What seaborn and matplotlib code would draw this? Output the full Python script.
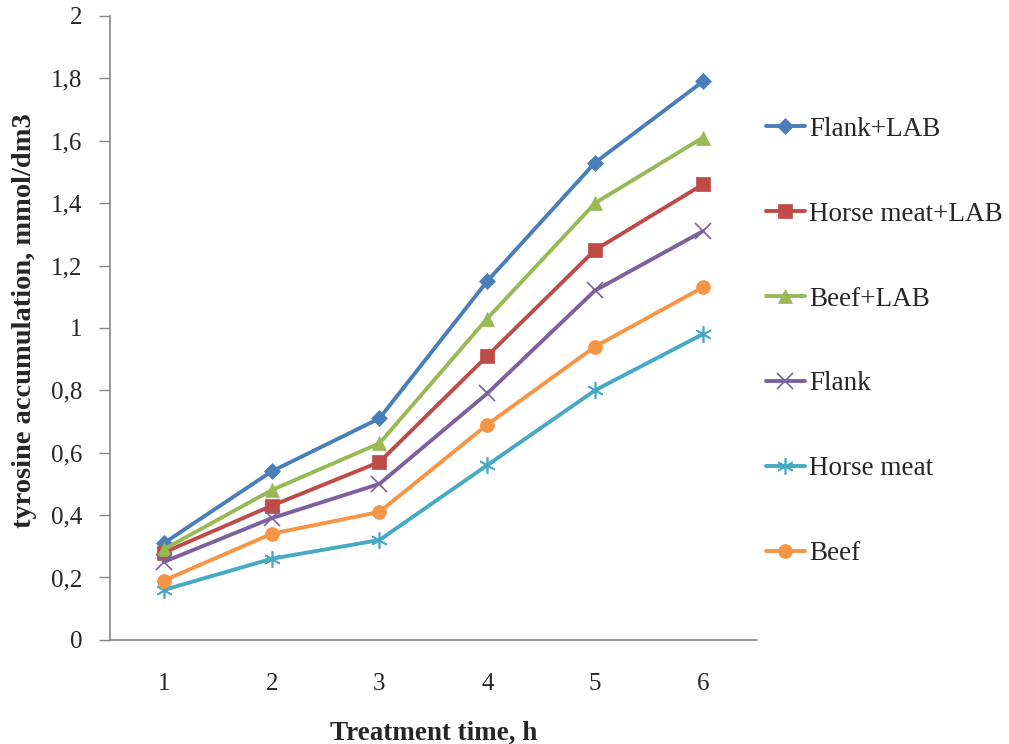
import matplotlib
matplotlib.use("Agg")
import matplotlib.pyplot as plt
from matplotlib.ticker import FuncFormatter, MultipleLocator
import pandas as pd
import seaborn as sns

# Treatment time (h) and tyrosine accumulation (mmol/dm3) for each sample
hours = [1, 2, 3, 4, 5, 6]
flank_lab = [0.31, 0.54, 0.71, 1.15, 1.53, 1.79]
horse_lab = [0.28, 0.43, 0.57, 0.91, 1.25, 1.46]
beef_lab = [0.29, 0.48, 0.63, 1.03, 1.40, 1.61]
flank = [0.25, 0.39, 0.50, 0.79, 1.12, 1.31]
horse = [0.16, 0.26, 0.32, 0.56, 0.80, 0.98]
beef = [0.19, 0.34, 0.41, 0.69, 0.94, 1.13]

series_names = ["Flank+LAB", "Horse meat+LAB", "Beef+LAB", "Flank", "Horse meat", "Beef"]
series_values = [flank_lab, horse_lab, beef_lab, flank, horse, beef]

colors = ["#4A7EBB", "#BE4B48", "#98B954", "#7D60A0", "#46AAC5", "#F69546"]
marker_shapes = ["D", "s", "^", "x", (6, 2, 0), "o"]
marker_sizes = [8, 10, 10, 11, 12, 10]
line_art = [False, False, False, True, True, False]

sns.set_style("white")
plt.rcParams["font.family"] = ["Liberation Serif", "DejaVu Serif"]

fig = plt.figure(figsize=(10.09, 7.44), dpi=100)
ax = fig.add_axes([0.109, 0.140, 0.641, 0.8385])

for name, vals, col, mk, ms, thin in zip(series_names, series_values, colors,
                                         marker_shapes, marker_sizes, line_art):
    df = pd.DataFrame({"hour": hours, "value": vals})
    sns.lineplot(
        data=df, x="hour", y="value", color=col, marker=mk, markersize=ms,
        markeredgecolor=col, markeredgewidth=1.2 if thin else 0.5,
        linewidth=2.8, label=name, ax=ax,
    )

handles, labels = ax.get_legend_handles_labels()
ax.get_legend().remove()
fig.legend(
    handles, labels, loc="upper left", bbox_to_anchor=(0.759, 0.843),
    frameon=False, fontsize=19.5, handlelength=1.45, handletextpad=0.15,
    labelspacing=2.21, borderpad=0, borderaxespad=0,
)

ax.set_xlim(0.5, 6.5)
ax.set_ylim(0, 2)
ax.set_xticks(hours)
ax.yaxis.set_major_locator(MultipleLocator(0.2))
ax.yaxis.set_major_formatter(FuncFormatter(lambda v, _: f"{round(v, 1):g}".replace(".", ",")))

ax.tick_params(axis="y", which="major", length=8, width=1, color="#868686",
               direction="out", left=True, labelsize=18, pad=12)
ax.tick_params(axis="x", which="major", length=0, labelsize=18, pad=24)

for side in ("top", "right"):
    ax.spines[side].set_visible(False)
for side in ("left", "bottom"):
    ax.spines[side].set_color("#868686")
    ax.spines[side].set_linewidth(1.2)

ax.set_xlabel("Treatment time, h", fontsize=19.5, fontweight="bold", labelpad=18)
ax.set_ylabel("tyrosine accumulation, mmol/dm3", fontsize=20.5, fontweight="bold")
ax.yaxis.set_label_coords(-0.113, 0.512)

fig.savefig("out.png", dpi=100, facecolor="white")
